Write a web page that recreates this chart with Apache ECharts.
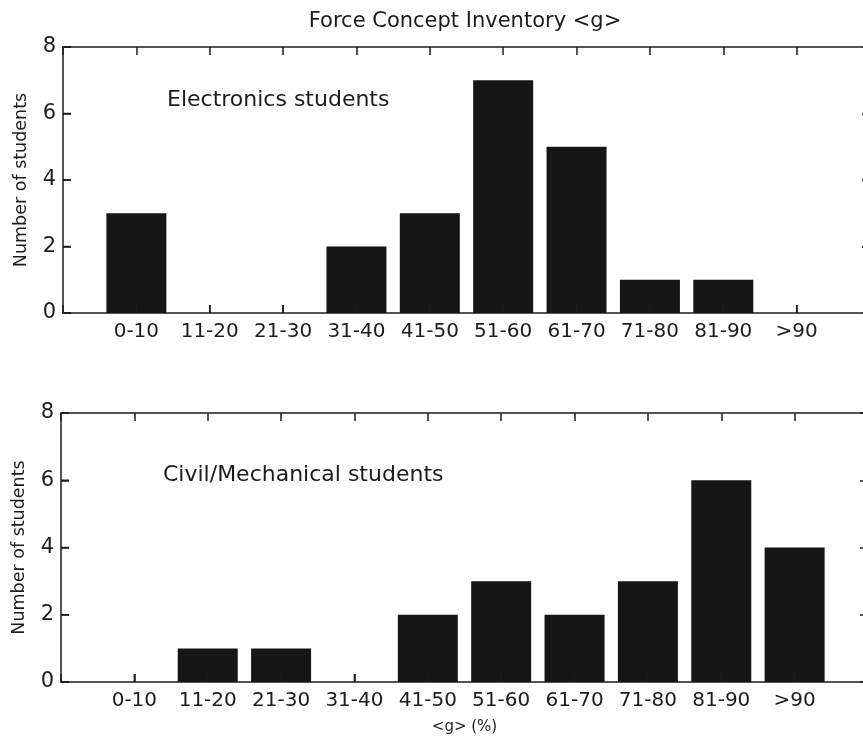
<!DOCTYPE html>
<html>
<head>
<meta charset="utf-8">
<script src="https://cdn.jsdelivr.net/npm/echarts@6/dist/echarts.min.js"></script>
<style>
html,body{margin:0;padding:0;background:#ffffff;}
#chart{width:863px;height:746px;}
</style>
</head>
<body>
<div id="chart"></div>
<script>
const categories = ['0-10','11-20','21-30','31-40','41-50','51-60','61-70','71-80','81-90','>90'];
const electronics = [3,0,0,2,3,7,5,1,1,0];
const civilMech = [0,1,1,0,2,3,2,3,6,4];
const yTickValues = [0,2,4,6,8];

const FONT = 'DejaVu Sans';
const INK = '#1c1c1c';
const TICK_LEN = 8;
const grids = [
  {left:63, top:47, width:807, height:266},
  {left:61, top:413, width:807, height:269}
];

function catLabel(v){
  const i = Math.round(v) - 1;
  return (i >= 0 && i < categories.length) ? categories[i] : '';
}
function line(){ return {show:true, onZero:false, lineStyle:{color:INK, width:1.5}}; }
function ticks(){ return {show:true, inside:true, length:TICK_LEN, lineStyle:{color:INK, width:1.5}}; }

function xBottom(grid, withName){
  return {
    type:'value', gridIndex:grid, position:'bottom', min:0, max:categories.length+1, interval:1,
    axisLine:line(), axisTick:ticks(),
    axisLabel:{show:true, formatter:catLabel, fontFamily:FONT, fontSize:20, color:INK, margin:9},
    splitLine:{show:false},
    name: withName ? '<g> (%)' : '',
    nameLocation:'middle', nameGap:38,
    nameTextStyle:{fontFamily:FONT, fontSize:15, color:INK}
  };
}
function xTop(grid){
  return {
    type:'value', gridIndex:grid, position:'top', min:0, max:categories.length+1, interval:1,
    axisLine:line(), axisTick:ticks(),
    axisLabel:{show:false}, splitLine:{show:false}
  };
}
function yLeft(grid){
  return {
    type:'value', gridIndex:grid, position:'left', min:yTickValues[0], max:yTickValues[yTickValues.length-1], interval:2,
    axisLine:line(), axisTick:ticks(),
    axisLabel:{show:true, fontFamily:FONT, fontSize:21, color:INK, margin:7},
    splitLine:{show:false},
    name:'Number of students', nameLocation:'middle', nameGap:33,
    nameTextStyle:{fontFamily:FONT, fontSize:17.5, color:INK}
  };
}
function yRight(grid){
  return {
    type:'value', gridIndex:grid, position:'right', min:yTickValues[0], max:yTickValues[yTickValues.length-1], interval:2,
    axisLine:line(), axisTick:ticks(),
    axisLabel:{show:false}, splitLine:{show:false}
  };
}
// inward tick marks on bottom and left edges, positioned through the axes' scales (api.coord)
function bottomTicks(xIdx, yIdx){
  return {type:'custom', xAxisIndex:xIdx, yAxisIndex:yIdx, clip:false, silent:true, z:10,
    renderItem:function(params, api){
      const p = api.coord([api.value(0), api.value(1)]);
      return {type:'line', shape:{x1:p[0], y1:p[1], x2:p[0], y2:p[1]-TICK_LEN}, style:{stroke:INK, lineWidth:1.5}};
    },
    data: categories.map((c,i)=>[i+1, yTickValues[0]])};
}
function leftTicks(xIdx, yIdx){
  return {type:'custom', xAxisIndex:xIdx, yAxisIndex:yIdx, clip:false, silent:true, z:10,
    renderItem:function(params, api){
      const p = api.coord([api.value(0), api.value(1)]);
      return {type:'line', shape:{x1:p[0], y1:p[1], x2:p[0]+TICK_LEN, y2:p[1]}, style:{stroke:INK, lineWidth:1.5}};
    },
    data: yTickValues.map(v=>[0, v])};
}

const chart = echarts.init(document.getElementById('chart'), null, {renderer:'canvas'});
chart.setOption({
  animation:false,
  backgroundColor:'#ffffff',
  grid: grids.map(g => Object.assign({containLabel:false, outerBoundsMode:'none'}, g)),
  xAxis:[xBottom(0,false), xTop(0), xBottom(1,true), xTop(1)],
  yAxis:[yLeft(0), yRight(0), yLeft(1), yRight(1)],
  graphic:[
    {type:'text', x:465, y:22, style:{text:'Force Concept Inventory <g>', fontFamily:FONT, fontSize:21, fill:INK, textAlign:'center', textVerticalAlign:'middle'}},
    {type:'text', x:167, y:100, style:{text:'Electronics students', fontFamily:FONT, fontSize:22, fill:INK, textAlign:'left', textVerticalAlign:'middle'}},
    {type:'text', x:163, y:475, style:{text:'Civil/Mechanical students', fontFamily:FONT, fontSize:22, fill:INK, textAlign:'left', textVerticalAlign:'middle'}}
  ],
  series:[
    {type:'bar', xAxisIndex:0, yAxisIndex:0, barWidth:60,
     itemStyle:{color:'#161616'},
     data: categories.map((c,i)=>[i+1, electronics[i]])},
    {type:'bar', xAxisIndex:2, yAxisIndex:2, barWidth:60,
     itemStyle:{color:'#161616'},
     data: categories.map((c,i)=>[i+1, civilMech[i]])},
    bottomTicks(0,0), leftTicks(0,0),
    bottomTicks(2,2), leftTicks(2,2)
  ]
});
</script>
</body>
</html>
